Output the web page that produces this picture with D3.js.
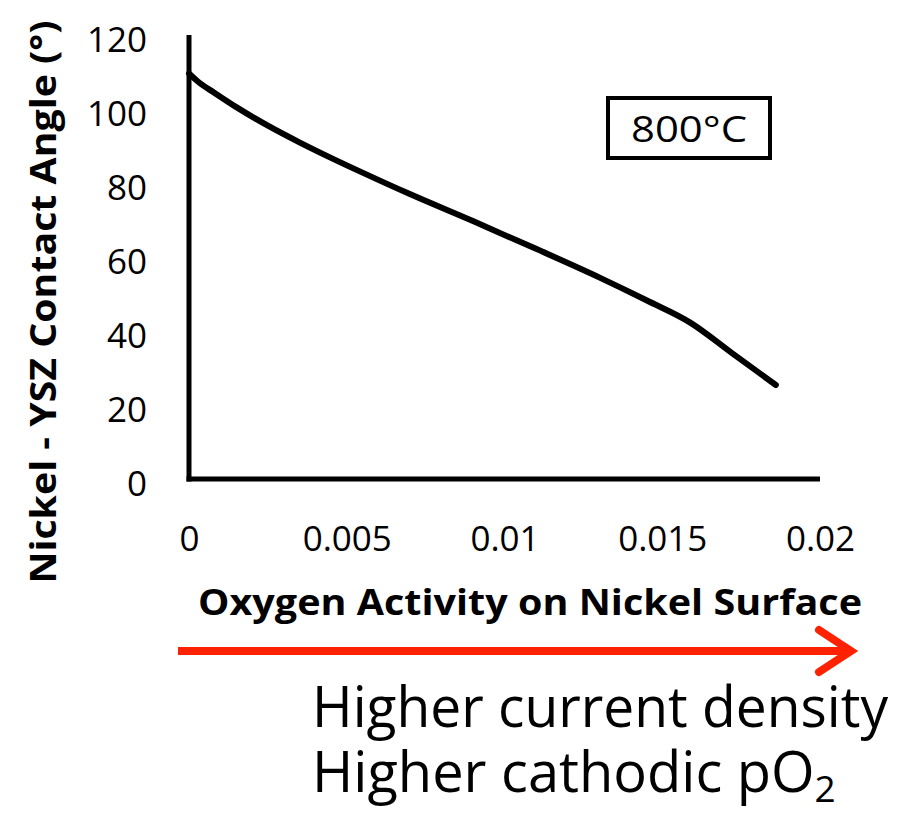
<!DOCTYPE html>
<html><head><meta charset="utf-8">
<script src="https://cdn.jsdelivr.net/npm/d3@7"></script>
<style>body{margin:0;background:#fff}svg{display:block}</style>
</head><body>
<script>
// Data
const oxygenActivity = [0, 0.0003, 0.0008, 0.0015, 0.0025, 0.0035, 0.0045, 0.0055, 0.007, 0.009, 0.011, 0.013, 0.0145, 0.0159, 0.0172, 0.0186];
const contactAngle   = [109.6, 107.3, 104.4, 100.5, 95.5, 91.0, 86.8, 82.8, 77.0, 69.7, 62.2, 54.5, 48.3, 42.2, 34.1, 25.4];
const xTicks = [0, 0.005, 0.01, 0.015, 0.02];
const xTickLabels = ["0", "0.005", "0.01", "0.015", "0.02"];
const yTicks = [0, 20, 40, 60, 80, 100, 120];
const xTitle = "Oxygen Activity on Nickel Surface";
const yTitle = "Nickel - YSZ Contact Angle (°)";
const boxLabel = "800°C";
const noteLines = ["Higher current density", "Higher cathodic pO"];

const W = 898, H = 813;
const FONT = "'Open Sans', 'Noto Sans', sans-serif";
const svg = d3.select("body").append("svg").attr("width", W).attr("height", H);

const x = d3.scaleLinear().domain([0, 0.02]).range([189, 820]);
const y = d3.scaleLinear().domain([0, 120]).range([479, 35]);

// axes (no tick marks)
const gx = svg.append("g").attr("transform", `translate(0,${y(0)})`)
  .call(d3.axisBottom(x).tickValues(xTicks).tickSize(0).tickPadding(0)
    .tickFormat((d, i) => xTickLabels[i]));
gx.select(".domain").attr("stroke", "#000").attr("stroke-width", 5).attr("d", `M${x(0) - 2.5},0H${x(0.02)}`);
gx.selectAll("text").attr("font-family", FONT).attr("font-size", 35).attr("fill", "#000")
  .attr("dy", null).attr("y", 72);

const gy = svg.append("g").attr("transform", `translate(${x(0)},0)`)
  .call(d3.axisLeft(y).tickValues(yTicks).tickSize(0).tickPadding(0).tickFormat(d3.format("d")));
gy.select(".domain").attr("stroke", "#000").attr("stroke-width", 5).attr("d", `M0,${y(120)}V${y(0) + 2.5}`);
gy.selectAll("text").attr("font-family", FONT).attr("font-size", 35).attr("fill", "#000")
  .attr("x", -42).attr("dy", "0.47em");

// curve
const pts = oxygenActivity.map((v, i) => [v, contactAngle[i]]);
svg.append("path").datum(pts)
  .attr("fill", "none").attr("stroke", "#000").attr("stroke-width", 6)
  .attr("stroke-linecap", "round").attr("stroke-linejoin", "round")
  .attr("d", d3.line().x(d => x(d[0])).y(d => y(d[1])).curve(d3.curveMonotoneX));

// axis titles
svg.append("text").attr("x", 530).attr("y", 615).attr("text-anchor", "middle")
  .attr("font-family", FONT).attr("font-weight", "bold").attr("font-size", 35)
  .attr("textLength", 664).attr("lengthAdjust", "spacingAndGlyphs").text(xTitle);
svg.append("text").attr("transform", "translate(56,302) rotate(-90)").attr("text-anchor", "middle")
  .attr("font-family", FONT).attr("font-weight", "bold").attr("font-size", 35)
  .attr("textLength", 563).attr("lengthAdjust", "spacingAndGlyphs").text(yTitle);

// label box
svg.append("rect").attr("x", 608).attr("y", 98).attr("width", 162).attr("height", 60)
  .attr("fill", "#fff").attr("stroke", "#000").attr("stroke-width", 4);
svg.append("text").attr("x", 689).attr("y", 142).attr("text-anchor", "middle")
  .attr("font-family", FONT).attr("font-size", 36).attr("textLength", 116)
  .attr("lengthAdjust", "spacingAndGlyphs").text(boxLabel);

// red arrow
const red = "#ff2200";
svg.append("line").attr("x1", 178).attr("x2", 848).attr("y1", 651).attr("y2", 651)
  .attr("stroke", red).attr("stroke-width", 8);
svg.append("path").attr("d", "M819,630L851,651L819,672").attr("fill", "none")
  .attr("stroke", red).attr("stroke-width", 8).attr("stroke-linecap", "round").attr("stroke-linejoin", "miter");

// notes
svg.append("text").attr("x", 312).attr("y", 727)
  .attr("font-family", FONT).attr("font-size", 56)
  .attr("textLength", 576).attr("lengthAdjust", "spacingAndGlyphs").text(noteLines[0]);
const t2 = svg.append("text").attr("x", 312).attr("y", 792)
  .attr("font-family", FONT).attr("font-size", 56);
t2.append("tspan").text(noteLines[1]);
t2.append("tspan").attr("font-size", 37).attr("dy", 10).text("2");
</script>
</body></html>
